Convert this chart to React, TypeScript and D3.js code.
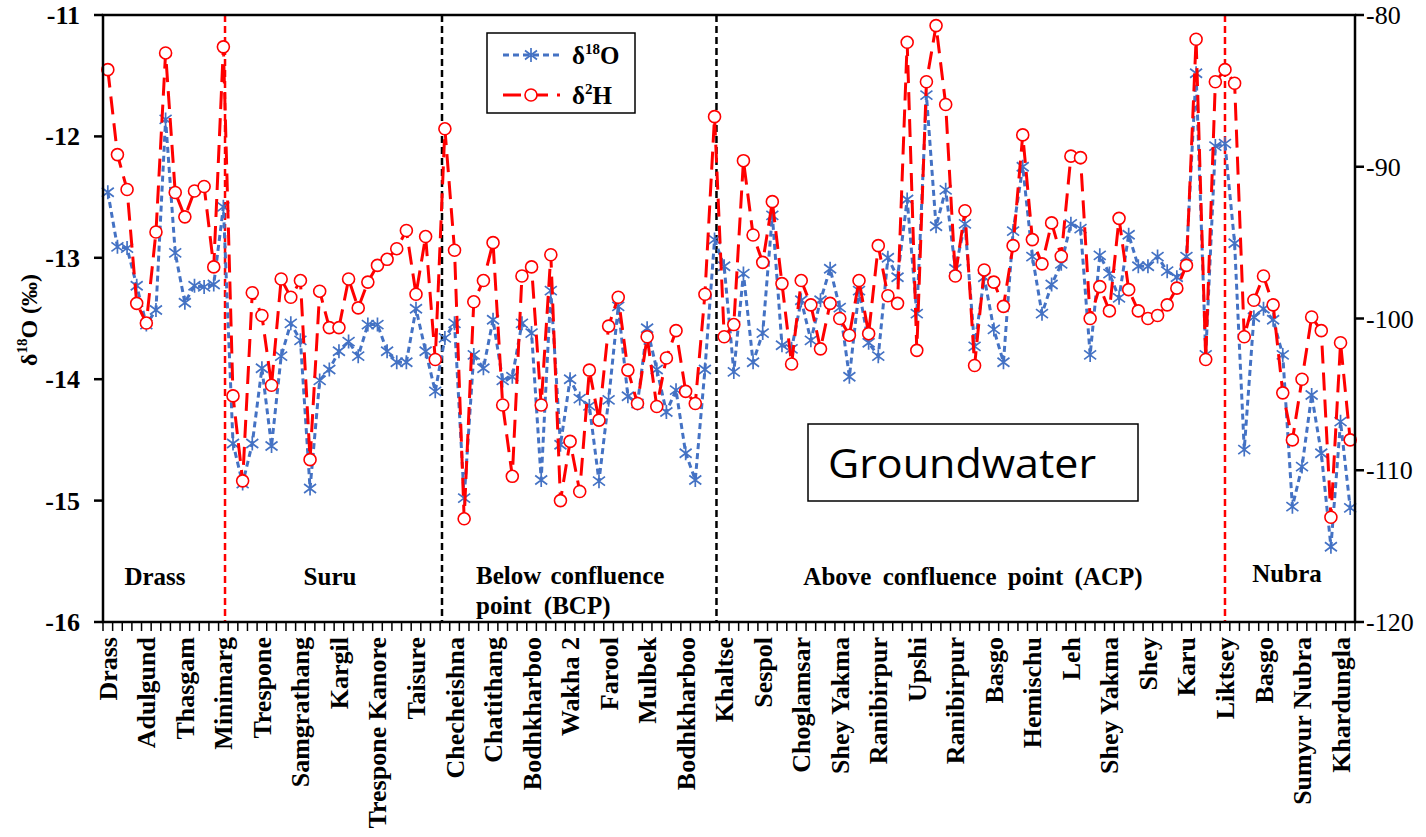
import React from 'react';
import * as d3 from 'd3';

// Category labels (every 4th sampling site is labelled on the axis)
const tickLabels = [
  'Drass', 'Adulgund', 'Thasgam', 'Minimarg', 'Trespone', 'Samgrathang', 'Kargil',
  'Trespone Kanore', 'Taisure', 'Checheishna', 'Chatithang', 'Bodhkharboo', 'Wakha 2',
  'Farool', 'Mulbek', 'Bodhkharboo', 'Khaltse', 'Sespol', 'Choglamsar', 'Shey Yakma',
  'Ranibirpur', 'Upshi', 'Ranibirpur', 'Basgo', 'Hemischu', 'Leh', 'Shey Yakma', 'Shey',
  'Karu', 'Liktsey', 'Basgo', 'Sumyur Nubra', 'Khardungla',
];
const labelEvery = 4;

// δ18O (‰) – left axis
const d18O = [
  -12.46, -12.91, -12.92, -13.23, -13.55, -13.43, -11.86, -12.96, -13.37, -13.23,
  -13.24, -13.22, -12.58, -14.53, -14.86, -14.53, -13.91, -14.55, -13.81, -13.54,
  -13.68, -14.90, -14.01, -13.92, -13.77, -13.69, -13.81, -13.55, -13.55, -13.77,
  -13.86, -13.86, -13.42, -13.77, -14.10, -13.66, -13.54, -14.98, -13.80, -13.91,
  -13.51, -14.01, -13.98, -13.54, -13.62, -14.83, -13.27, -14.54, -14.00, -14.16,
  -14.22, -14.84, -14.17, -13.40, -14.14, -14.20, -13.58, -13.92, -14.27, -14.09,
  -14.61, -14.83, -13.92, -12.85, -13.07, -13.94, -13.13, -13.86, -13.62, -12.65,
  -13.72, -13.75, -13.35, -13.68, -13.35, -13.09, -13.41, -13.98, -13.27, -13.70,
  -13.81, -13.00, -13.16, -12.52, -13.46, -11.66, -12.74, -12.44, -13.09, -12.72,
  -13.73, -13.16, -13.59, -13.86, -12.78, -12.25, -12.99, -13.46, -13.22, -13.05,
  -12.72, -12.76, -13.80, -12.98, -13.13, -13.33, -12.81, -13.07, -13.07, -12.99,
  -13.11, -13.16, -12.99, -11.48, -13.80, -12.08, -12.06, -12.88, -14.58, -13.49,
  -13.42, -13.51, -13.80, -15.05, -14.72, -14.13, -14.61, -15.38, -14.35, -15.06,
];

// δ2H (‰) – right axis
const d2H = [
  -83.6, -89.2, -91.5, -99.0, -100.3, -94.3, -82.5, -91.7, -93.3, -91.6,
  -91.3, -96.6, -82.1, -105.1, -110.7, -98.3, -99.8, -104.4, -97.4, -98.6,
  -97.5, -109.3, -98.2, -100.6, -100.6, -97.4, -99.3, -97.6, -96.5, -96.1,
  -95.4, -94.2, -98.4, -94.6, -102.7, -87.5, -95.5, -113.2, -98.9, -97.5,
  -95.0, -105.7, -110.4, -97.2, -96.6, -105.7, -95.8, -112.0, -108.1, -111.4,
  -103.4, -106.7, -100.5, -98.6, -103.4, -105.6, -101.2, -105.8, -102.6, -100.8,
  -104.8, -105.6, -98.4, -86.7, -101.2, -100.4, -89.6, -94.5, -96.3, -92.3,
  -97.7, -103.0, -97.5, -99.1, -102.0, -99.0, -100.0, -101.1, -97.5, -101.0,
  -95.2, -98.5, -99.0, -81.8, -102.1, -84.4, -80.7, -85.9, -97.2, -92.9,
  -103.1, -96.8, -97.6, -99.2, -95.2, -87.9, -94.8, -96.4, -93.7, -95.9,
  -89.3, -89.4, -100.0, -97.9, -99.5, -93.4, -98.1, -99.5, -100.0, -99.8,
  -99.1, -98.0, -96.5, -81.6, -102.7, -84.4, -83.6, -84.5, -101.2, -98.8,
  -97.2, -99.1, -104.9, -108.0, -104.0, -99.9, -100.8, -113.1, -101.6, -108.0,
];

const leftTicks = [-11, -12, -13, -14, -15, -16];
const rightTicks = [-80, -90, -100, -110, -120];

// Region boundaries (in category units)
const redDividers = [12.67, 116.5];
const blackDividers = [35.2, 63.7];

const BLUE = '#4472C4';
const RED = '#FF0000';
const SERIF = '"Liberation Serif", "Times New Roman", serif';

function Star({ x, y }: { x: number; y: number }) {
  const s = 7;
  const d = `M${x},${y - s}L${x},${y + s}M${x - 6},${y - 4.5}L${x + 6},${y + 4.5}M${x - 6},${y + 4.5}L${x + 6},${y - 4.5}`;
  return <path d={d} stroke={BLUE} strokeWidth={1.7} fill="none" />;
}

export default function App() {
  const W = 1426;
  const H = 837;
  const L = 103, R = 1355, T = 15, B = 622;
  const n = d18O.length;
  const x = d3.scaleLinear().domain([0, n]).range([L, R]);
  const yL = d3.scaleLinear().domain([-16, -11]).range([B, T]);
  const yR = d3.scaleLinear().domain([-120, -80]).range([B, T]);
  const cx = (i: number) => x(i + 0.5);

  const lineO = d3.line<number>().x((_, i) => cx(i)).y((d) => yL(d))(d18O) || '';
  const lineH = d3.line<number>().x((_, i) => cx(i)).y((d) => yR(d))(d2H) || '';

  const boundaries = d3.range(0, n + 1);

  return (
    <svg width={W} height={H} style={{ position: 'absolute', left: 0, top: 0, background: '#fff' }}
      fontFamily={SERIF}>
      <rect x={0} y={0} width={W} height={H} fill="#fff" />

      {/* dividers */}
      {redDividers.map((d, i) => (
        <line key={'r' + i} x1={x(d)} x2={x(d)} y1={T} y2={B} stroke={RED} strokeWidth={2.5} strokeDasharray="7,4" />
      ))}
      {blackDividers.map((d, i) => (
        <line key={'b' + i} x1={x(d)} x2={x(d)} y1={T} y2={B} stroke="#000" strokeWidth={2.5} strokeDasharray="7,4" />
      ))}

      {/* region labels */}
      <g fontWeight="bold" fontSize={25} fill="#000">
        <text x={155} y={585} textAnchor="middle">Drass</text>
        <text x={330} y={585} textAnchor="middle">Suru</text>
        <text x={476} y={584} wordSpacing={3}>Below confluence</text>
        <text x={476} y={614} wordSpacing={6}>point (BCP)</text>
        <text x={973} y={585} textAnchor="middle" wordSpacing={5}>Above confluence point (ACP)</text>
        <text x={1287} y={582} textAnchor="middle">Nubra</text>
      </g>

      {/* Groundwater box */}
      <rect x={808} y={424} width={330} height={77} fill="#fff" stroke="#000" strokeWidth={1.5} />
      <text x={828} y={478} fontFamily='"Open Sans", "Liberation Sans", sans-serif' fontSize={41}
        textLength={268} lengthAdjust="spacingAndGlyphs">Groundwater</text>

      {/* series */}
      <path d={lineO} fill="none" stroke={BLUE} strokeWidth={3} strokeDasharray="6,4" />
      {d18O.map((v, i) => <Star key={'s' + i} x={cx(i)} y={yL(v)} />)}
      <path d={lineH} fill="none" stroke={RED} strokeWidth={3} strokeDasharray="18,9" />
      {d2H.map((v, i) => (
        <circle key={'c' + i} cx={cx(i)} cy={yR(v)} r={6} fill="#fff" stroke={RED} strokeWidth={1.6} />
      ))}

      {/* frame */}
      <rect x={L} y={T} width={R - L} height={B - T} fill="none" stroke="#000" strokeWidth={2.5} />

      {/* bottom ticks */}
      {boundaries.map((b) => (
        <line key={'t' + b} x1={x(b)} x2={x(b)} y1={B} y2={B + 9} stroke="#000" strokeWidth={1.5} />
      ))}
      {/* bottom labels */}
      <g fontWeight="bold" fontSize={26}>
        {tickLabels.map((lab, k) => {
          const px = cx(k * labelEvery) + 9;
          return (
            <text key={'l' + k} transform={`translate(${px},637) rotate(-90)`} textAnchor="end">{lab}</text>
          );
        })}
      </g>

      {/* left axis */}
      {leftTicks.map((t) => (
        <g key={'lt' + t}>
          <line x1={L - 9} x2={L} y1={yL(t)} y2={yL(t)} stroke="#000" strokeWidth={2.5} />
          <text x={80} y={yL(t) + 9} textAnchor="end" fontWeight="bold" fontSize={26}>{t}</text>
        </g>
      ))}
      <text transform={`translate(37,320) rotate(-90)`} textAnchor="middle" fontWeight="bold" fontSize={24}>
        δ<tspan fontSize={15} dy={-10}>18</tspan><tspan dy={10}>O (‰)</tspan>
      </text>

      {/* right axis */}
      {rightTicks.map((t) => (
        <g key={'rt' + t}>
          <line x1={R} x2={R + 9} y1={yR(t)} y2={yR(t)} stroke="#000" strokeWidth={2.5} />
          <text x={1366} y={yR(t) + 9} textAnchor="start" fontSize={26}>{t}</text>
        </g>
      ))}

      {/* legend */}
      <rect x={487} y={33} width={148} height={80} fill="#fff" stroke="#000" strokeWidth={1.5} />
      <line x1={503} x2={560} y1={55} y2={55} stroke={BLUE} strokeWidth={3} strokeDasharray="6,4" />
      <Star x={531} y={55} />
      <text x={572} y={64} fontWeight="bold" fontSize={25}>
        δ<tspan fontSize={15} dy={-10}>18</tspan><tspan dy={10}>O</tspan>
      </text>
      <line x1={503} x2={560} y1={95} y2={95} stroke={RED} strokeWidth={3} strokeDasharray="18,9" />
      <circle cx={531} cy={95} r={6} fill="#fff" stroke={RED} strokeWidth={1.6} />
      <text x={572} y={104} fontWeight="bold" fontSize={25}>
        δ<tspan fontSize={15} dy={-10}>2</tspan><tspan dy={10}>H</tspan>
      </text>
    </svg>
  );
}
